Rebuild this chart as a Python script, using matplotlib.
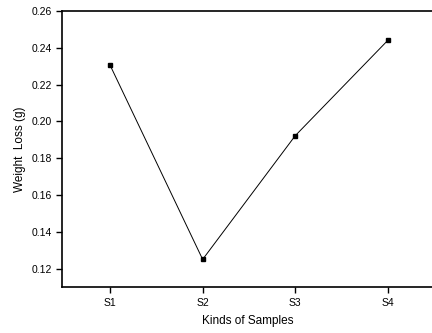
import matplotlib.pyplot as plt

samples = ["S1", "S2", "S3", "S4"]
weight_loss = [0.2305, 0.1250, 0.1922, 0.2440]

plt.rcParams["font.family"] = ["Liberation Sans", "DejaVu Sans"]

fig = plt.figure(figsize=(4.32, 3.33), dpi=100)
ax = fig.add_axes([62 / 432, 46 / 333, 372 / 432, 276 / 333])

x = range(1, len(samples) + 1)
ax.plot(x, weight_loss, color="black", linewidth=0.7, marker="s", markersize=3.5)

ax.set_xlim(0.48, 4.5)
ax.set_ylim(0.11, 0.26)
ax.set_xticks(list(x))
ax.set_xticklabels(samples)
ax.set_yticks([0.12, 0.14, 0.16, 0.18, 0.20, 0.22, 0.24, 0.26])
ax.set_yticklabels(["0.12", "0.14", "0.16", "0.18", "0.20", "0.22", "0.24", "0.26"])

ax.tick_params(direction="out", length=4, width=1, labelsize=7.5)
ax.tick_params(axis="x", pad=4)
for side in ["left", "bottom", "top"]:
    ax.spines[side].set_linewidth(1.2)
ax.spines["right"].set_visible(False)

ax.set_xlabel("Kinds of Samples", fontsize=8.5, labelpad=5)
ax.set_ylabel("Weight  Loss (g)", fontsize=8.5, labelpad=4)

fig.savefig("out.png", dpi=100)
